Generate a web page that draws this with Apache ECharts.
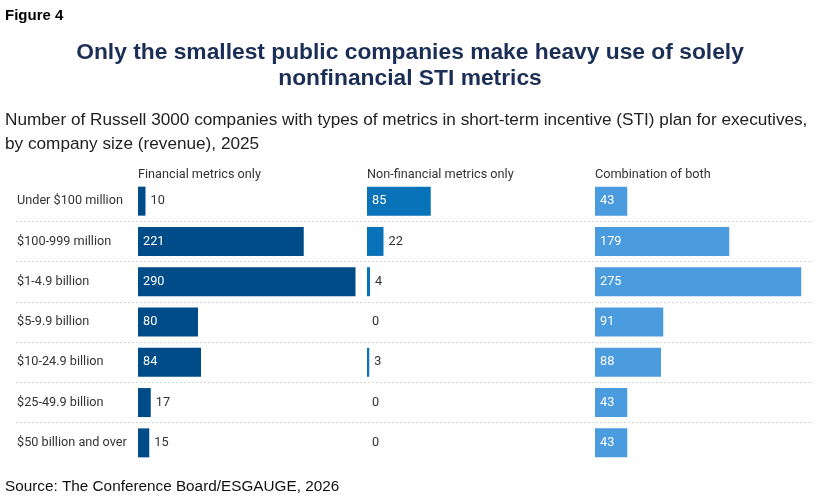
<!DOCTYPE html>
<html>
<head>
<meta charset="utf-8">
<script src="https://cdn.jsdelivr.net/npm/echarts@6/dist/echarts.min.js"></script>
<style>
  html, body { margin: 0; padding: 0; background: #fff; }
  #chart { width: 836px; height: 497px; }
</style>
</head>
<body>
<div id="chart"></div>
<script>
var sizes = [
    'Under $100 million',
    '$100-999 million',
    '$1-4.9 billion',
    '$5-9.9 billion',
    '$10-24.9 billion',
    '$25-49.9 billion',
    '$50 billion and over'
];
var financialOnly = [10, 221, 290, 80, 84, 17, 15];
var nonFinancialOnly = [85, 22, 4, 0, 3, 0, 0];
var combination = [43, 179, 275, 91, 88, 43, 43];
var columnNames = ['Financial metrics only', 'Non-financial metrics only', 'Combination of both'];

// big bars get the number inside in white, small ones get it outside
function toBarData(values) {
    return values.map(function (v) {
        var inside = v >= 40;
        return {
            value: v,
            label: {
                position: inside ? 'insideLeft' : 'right',
                distance: 5,
                color: inside ? '#ffffff' : '#333333'
            }
        };
    });
}

var chart = echarts.init(document.getElementById('chart'));

var gridTop = 181;
var gridHeight = 282;
var colLefts = [138, 367, 595];
var colWidth = 225;
var axisMax = 300;
var colors = ['#004c88', '#0873b8', '#4b9bdf'];
var seriesData = [financialOnly, nonFinancialOnly, combination];
var chartFont = 12.7;

var grids = [{ left: 16, top: gridTop, width: 797, height: gridHeight }];
var xAxes = [{ gridIndex: 0, type: 'value', show: false, min: 0, max: 1 }];
var yAxes = [{
    gridIndex: 0,
    type: 'category',
    data: sizes,
    inverse: true,
    axisLine: { show: false },
    axisTick: { show: false },
    axisLabel: {
        inside: true,
        margin: 1,
        color: '#333333',
        fontFamily: 'Roboto',
        fontSize: chartFont
    },
    splitLine: {
        show: true,
        showMinLine: false,
        showMaxLine: false,
        lineStyle: { color: '#d6d6d6', type: [2, 2], width: 1 }
    }
}];
var series = [];
var titles = [
    {
        text: 'Figure 4',
        left: 5, top: 8, padding: 0,
        textStyle: { fontFamily: 'Liberation Sans', fontSize: 15, fontWeight: 'bold', color: '#000000' }
    },
    {
        text: 'Only the smallest public companies make heavy use of solely\nnonfinancial STI metrics',
        left: 410, top: 40, padding: 0, textAlign: 'center',
        textStyle: { fontFamily: 'Liberation Sans', fontSize: 22.8, fontWeight: 'bold', color: '#1b2e55', lineHeight: 26 }
    },
    {
        text: 'Number of Russell 3000 companies with types of metrics in short-term incentive (STI) plan for executives,\nby company size (revenue), 2025',
        left: 5, top: 108, padding: 0,
        textStyle: { fontFamily: 'Liberation Sans', fontSize: 17.2, fontWeight: 'normal', color: '#222222', lineHeight: 24 }
    },
    {
        text: 'Source: The Conference Board/ESGAUGE, 2026',
        left: 5, top: 478, padding: 0,
        textStyle: { fontFamily: 'Liberation Sans', fontSize: 15.3, fontWeight: 'normal', color: '#111111', lineHeight: 18 }
    }
];

for (var i = 0; i < 3; i++) {
    grids.push({ left: colLefts[i], top: gridTop, width: colWidth, height: gridHeight });
    xAxes.push({ gridIndex: i + 1, type: 'value', min: 0, max: axisMax, show: false });
    yAxes.push({ gridIndex: i + 1, type: 'category', data: sizes, inverse: true, show: false });
    series.push({
        name: columnNames[i],
        type: 'bar',
        xAxisIndex: i + 1,
        yAxisIndex: i + 1,
        barWidth: 29,
        itemStyle: { color: colors[i] },
        label: { show: true, fontFamily: 'Roboto', fontSize: chartFont },
        data: toBarData(seriesData[i]),
        silent: true
    });
    titles.push({
        text: columnNames[i],
        left: colLefts[i], top: 168, padding: 0,
        textStyle: { fontFamily: 'Roboto', fontSize: chartFont, fontWeight: 'normal', color: '#333333' }
    });
}

chart.setOption({
    animation: false,
    title: titles,
    grid: grids,
    xAxis: xAxes,
    yAxis: yAxes,
    series: series
});
</script>
</body>
</html>
